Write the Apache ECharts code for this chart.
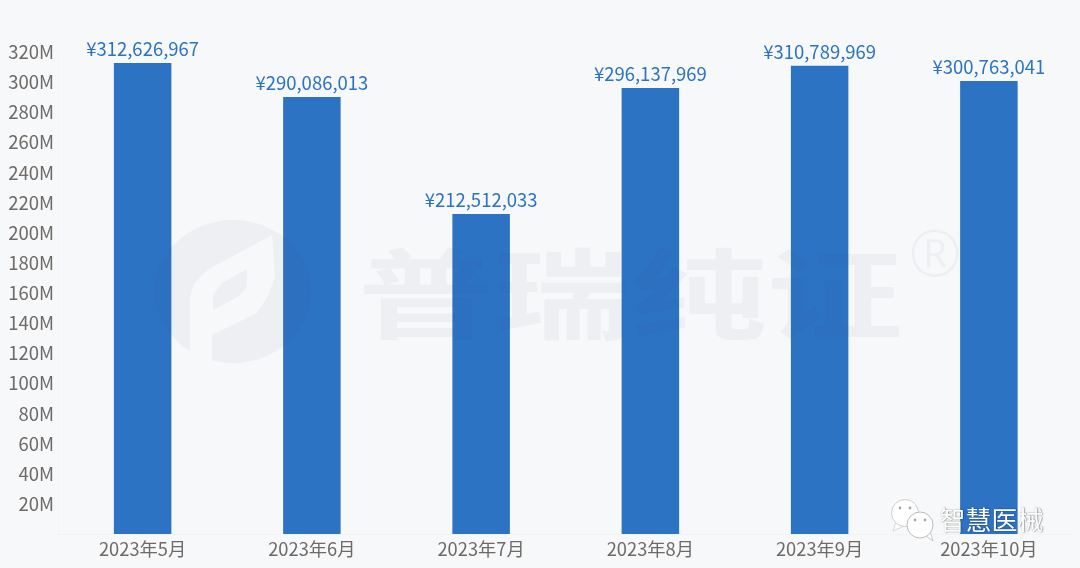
<!DOCTYPE html>
<html><head><meta charset="utf-8">
<style>html,body{margin:0;padding:0;background:#f7f8fa}#c{width:1080px;height:568px}</style>
<script src="https://cdn.jsdelivr.net/npm/echarts@6/dist/echarts.min.js"></script>
</head><body><div id="c"></div>
<script>
const categories = ['2023年5月','2023年6月','2023年7月','2023年8月','2023年9月','2023年10月'];
const sales = [312626967,290086013,212512033,296137969,310789969,300763041];
const FONT = '"Noto Sans CJK SC","Noto Sans",sans-serif';
const WM = 'rgba(45,55,90,0.045)';
const chart = echarts.init(document.getElementById('c'));
const Z = 100;
chart.setOption({
  backgroundColor:'#f7f8fa',
  animation:false,
  grid:{left:58,right:6.5,top:52,bottom:34},
  xAxis:{type:'category',data:categories,
    axisLine:{lineStyle:{color:'#f2f3f5'}},axisTick:{show:false},
    axisLabel:{color:'#6e6a67',fontFamily:FONT,fontSize:18.3,margin:6}},
  yAxis:{type:'value',min:0,max:320000000,interval:20000000,
    splitLine:{show:false},axisTick:{show:false},
    axisLine:{show:true,lineStyle:{color:'#f4f5f7'}},
    axisLabel:{color:'#6e6a67',fontFamily:FONT,fontSize:18.5,margin:4,
      formatter:v=>v===0?'':(v/1000000)+'M'}},
  series:[{type:'bar',data:sales,barWidth:57.5,
    itemStyle:{color:'#2c73c4'},
    label:{show:true,position:'top',distance:5,color:'#2c73c4',fontFamily:FONT,fontSize:18.5,
      formatter:p=>'¥'+p.value.toLocaleString('en-US')}}],
  graphic:[
    {type:'ellipse',z:Z,silent:true,shape:{cx:233,cy:291.5,rx:78,ry:71.5},style:{fill:WM}},
    {type:'polygon',z:Z+1,silent:true,shape:{points:[[190,358],[190,297],[194,284],[207,270],[272,235],[275,277],[268,296],[257,313],[212,335],[212,363]]},style:{fill:'#f7f8fa'}},
    {type:'polygon',z:Z+2,silent:true,shape:{points:[[213,310],[213,295],[222,283],[247,269],[247,287],[238,297]]},style:{fill:'#eeeff3'}},
    {type:'text',z:Z,silent:true,x:358,y:294,scaleX:1.39,scaleY:1,style:{text:'普瑞纯证',fill:WM,font:'700 98px "Noto Sans CJK SC"',textVerticalAlign:'middle'}},
    {type:'text',z:Z,silent:true,x:935,y:258,style:{text:'®',fill:WM,font:'300 64px "Noto Sans"',textAlign:'center',textVerticalAlign:'middle'}},
    {type:'polygon',z:Z+3,silent:true,shape:{points:[[896,522],[893,531],[904,526]]},style:{fill:'#fff',stroke:'#cfcfcf',lineWidth:0.8}},
    {type:'circle',z:Z+3,silent:true,shape:{cx:905,cy:513,r:13.5},style:{fill:'#fff',stroke:'#cfcfcf',lineWidth:1}},
    {type:'circle',z:Z+4,silent:true,shape:{cx:900,cy:508,r:1.4},style:{fill:'#a8a8a8'}},
    {type:'circle',z:Z+4,silent:true,shape:{cx:910,cy:508,r:1.4},style:{fill:'#a8a8a8'}},
    {type:'polygon',z:Z+4,silent:true,shape:{points:[[925,535],[933,541],[930,531]]},style:{fill:'#fff',stroke:'#bcbcbc',lineWidth:0.8}},
    {type:'circle',z:Z+5,silent:true,shape:{cx:920,cy:525,r:13},style:{fill:'#fff',stroke:'#bcbcbc',lineWidth:1}},
    {type:'circle',z:Z+6,silent:true,shape:{cx:915,cy:520,r:1.4},style:{fill:'#a8a8a8'}},
    {type:'circle',z:Z+6,silent:true,shape:{cx:925,cy:520,r:1.4},style:{fill:'#a8a8a8'}},
    {type:'text',z:Z+6,silent:true,x:991.5,y:520,style:{text:'智慧医械',fill:'#fff',font:'26px "Noto Sans CJK SC"',textAlign:'center',textVerticalAlign:'middle',textShadowColor:'rgba(0,0,0,0.6)',textShadowBlur:1.5,textShadowOffsetX:0.5,textShadowOffsetY:0.5}}
  ]
});
</script></body></html>
